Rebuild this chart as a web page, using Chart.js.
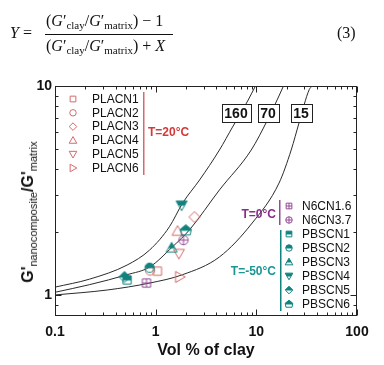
<!DOCTYPE html>
<html>
<head>
<meta charset="utf-8">
<script src="https://cdn.jsdelivr.net/npm/chart.js@4/dist/chart.umd.min.js"></script>
<style>
  html, body { margin:0; padding:0; background:#fff; }
  #wrap { position:relative; width:384px; height:365px; overflow:hidden; }
  #chart { position:absolute; left:0; top:0; }
  .eq { position:absolute; font-family:"Liberation Serif","Times New Roman",serif; font-size:16px; line-height:18px; color:#111; white-space:nowrap; }
  .eq sub { font-size:11px; vertical-align:-3px; line-height:0; }
  #bar { position:absolute; left:45px; top:34px; width:128px; height:1px; background:#111; }
  #ytitle { position:absolute; left:28px; top:212px; transform:translate(-50%,-50%) rotate(-90deg);
    font-family:"Liberation Sans",Arial,sans-serif; font-weight:bold; font-size:16px; line-height:18px; color:#111; white-space:nowrap; }
  #ytitle sub { font-weight:normal; font-size:11px; vertical-align:-4px; line-height:0; }
</style>
</head>
<body>
<div id="wrap">
  <canvas id="chart" width="384" height="365"></canvas>
  <div class="eq" style="left:10px; top:24px;"><i>Y</i> =</div>
  <div class="eq" style="left:46px; top:12px;">(<i>G</i>′<sub>clay</sub>/<i>G</i>′<sub>matrix</sub>) − 1</div>
  <div id="bar"></div>
  <div class="eq" style="left:46px; top:37px;">(<i>G</i>′<sub>clay</sub>/<i>G</i>′<sub>matrix</sub>) + <i>X</i></div>
  <div class="eq" style="left:337px; top:24px;">(3)</div>
  <div id="ytitle">G'<sub>nanocomposite</sub>/G'<sub>matrix</sub></div>
</div>
<script>
// axis ticks
const xTickValues = [0.1, 1, 10, 100];
const xTickLabels = ['0.1', '1', '10', '100'];
const yTickValues = [1, 10];
const yTickLabels = ['1', '10'];

// model curves
const curveNames = ['160', '70', '15'];
const curve160X = [0.1, 0.22, 0.52, 0.87, 1.37, 1.85, 2.73, 4.3, 5.8, 8.3, 9.8];
const curve160Y = [1.09, 1.19, 1.39, 1.64, 2.12, 2.75, 3.55, 4.94, 6.36, 8.57, 10];
const curve70X = [0.1, 0.22, 0.52, 0.87, 1.47, 2.17, 4.3, 8.9, 12.9, 16.1, 18.6];
const curve70Y = [1.03, 1.12, 1.25, 1.36, 1.70, 2.05, 3.18, 4.94, 6.87, 8.58, 10];
const curve15X = [0.1, 0.33, 0.87, 1.85, 4.3, 9.1, 16.8, 22.2, 26.7, 33.5, 35.9];
const curve15Y = [1.0, 1.056, 1.14, 1.25, 1.52, 2.21, 3.43, 4.94, 6.72, 9.6, 10];

// measured samples
const seriesNames = ['PLACN1','PLACN2','PLACN3','PLACN4','PLACN5','PLACN6',
                     'N6CN1.6','N6CN3.7',
                     'PBSCN1','PBSCN2','PBSCN3','PBSCN4','PBSCN5','PBSCN6'];
const seriesX = [1.04, 0.88, 2.43, 1.65, 1.70, 1.73, 0.81, 1.89, 0.52, 0.87, 1.44, 1.81, 0.49, 1.99];
const seriesY = [1.30, 1.31, 2.36, 2.02, 1.58, 1.22, 1.14, 1.83, 1.18, 1.35, 1.68, 2.69, 1.22, 2.04];

const RED = '#d56a6a', PURPLE = '#944a94', TEAL = '#10837f';
const shapes = ['square','circle','diamond','triUp','triDown','triRight',
                'squarePlus','circlePlus',
                'square','circle','triUp','triDown','diamond','house'];

function styleOf(i){
  if(i < 6) return { shape: shapes[i], color: RED, fill: false, order: 3 };
  if(i < 8) return { shape: shapes[i], color: PURPLE, fill: false, order: 2 };
  return { shape: shapes[i], color: TEAL, fill: true, order: 1 };
}

function markerPath(ctx, shape, x, y, r){
  ctx.beginPath();
  if(shape === 'square' || shape === 'squarePlus'){
    const s = r*0.75; ctx.rect(x-s, y-s, 2*s, 2*s);
  } else if(shape === 'circle' || shape === 'circlePlus'){
    ctx.arc(x, y, r*0.85, 0, Math.PI*2);
  } else if(shape === 'diamond'){
    ctx.moveTo(x, y-r); ctx.lineTo(x+r, y); ctx.lineTo(x, y+r); ctx.lineTo(x-r, y);
  } else if(shape === 'triUp'){
    ctx.moveTo(x, y-r); ctx.lineTo(x+r, y+0.75*r); ctx.lineTo(x-r, y+0.75*r);
  } else if(shape === 'triDown'){
    ctx.moveTo(x, y+r); ctx.lineTo(x+r, y-0.75*r); ctx.lineTo(x-r, y-0.75*r);
  } else if(shape === 'triRight'){
    ctx.moveTo(x+r, y); ctx.lineTo(x-0.75*r, y-r); ctx.lineTo(x-0.75*r, y+r);
  } else if(shape === 'house'){
    ctx.moveTo(x, y-r); ctx.lineTo(x+r, y-0.2*r); ctx.lineTo(x+0.8*r, y+0.85*r);
    ctx.lineTo(x-0.8*r, y+0.85*r); ctx.lineTo(x-r, y-0.2*r);
  }
  ctx.closePath();
}

function drawMarker(ctx, st, x, y, r){
  ctx.save();
  ctx.lineWidth = 1;
  ctx.strokeStyle = st.color;
  ctx.fillStyle = st.color;
  markerPath(ctx, st.shape, x, y, r);
  if(st.fill){
    ctx.save(); ctx.clip();
    ctx.fillRect(x-r-1, y-r-1, 2*r+2, r+1.5);
    ctx.restore();
  }
  ctx.stroke();
  if(st.shape === 'squarePlus' || st.shape === 'circlePlus'){
    const s = st.shape === 'squarePlus' ? r*0.75 : r*0.85;
    ctx.beginPath();
    ctx.moveTo(x-s, y); ctx.lineTo(x+s, y);
    ctx.moveTo(x, y-s); ctx.lineTo(x, y+s);
    ctx.stroke();
  }
  ctx.restore();
}

function markerImage(st, r){
  const c = document.createElement('canvas');
  c.width = 16; c.height = 16;
  drawMarker(c.getContext('2d'), st, 8, 8, r);
  return c;
}

function pts(xs, ys){ return xs.map((v,i) => ({x: v, y: ys[i]})); }

const datasets = [];
seriesNames.forEach((name, i) => {
  const st = styleOf(i);
  datasets.push({
    label: name,
    data: [{x: seriesX[i], y: seriesY[i]}],
    pointStyle: markerImage(st, 5.5),
    pointRadius: 5,
    order: st.order
  });
});
[[curve160X, curve160Y], [curve70X, curve70Y], [curve15X, curve15Y]].forEach((c, i) => {
  datasets.push({
    label: curveNames[i],
    data: pts(c[0], c[1]),
    showLine: true,
    pointRadius: 0,
    borderColor: '#2a2a2a',
    borderWidth: 1,
    cubicInterpolationMode: 'monotone',
    order: 10
  });
});

function sameLog(a, b){ return Math.abs(Math.log10(a) - Math.log10(b)) < 1e-6; }

// frame + inward ticks on all four sides
const framePlugin = {
  id: 'frame',
  beforeDatasetsDraw(chart){
    const {ctx, chartArea: a, scales} = chart;
    ctx.save();
    ctx.strokeStyle = '#222';
    ctx.lineWidth = 1;
    const L = Math.round(a.left)+0.5, R = Math.round(a.right)-0.5;
    const T = Math.round(a.top)+0.5, B = Math.round(a.bottom)-0.5;
    ctx.strokeRect(L, T, R-L, B-T);
    ctx.beginPath();
    scales.x.ticks.forEach(t => {
      const v = t.value, e = Math.log10(v), major = Math.abs(e-Math.round(e)) < 1e-6;
      const sig = v / Math.pow(10, Math.floor(e+1e-9));
      if(!major && Math.abs(sig-Math.round(sig)) > 1e-6) return;
      if(v < scales.x.min*0.999 || v > scales.x.max*1.001) return;
      const p = Math.round(scales.x.getPixelForValue(v))+0.5, len = major ? 6 : 3;
      ctx.moveTo(p, B); ctx.lineTo(p, B-len);
      ctx.moveTo(p, T); ctx.lineTo(p, T+len);
    });
    scales.y.ticks.forEach(t => {
      const v = t.value, e = Math.log10(v), major = Math.abs(e-Math.round(e)) < 1e-6;
      const sig = v / Math.pow(10, Math.floor(e+1e-9));
      if(!major && Math.abs(sig-Math.round(sig)) > 1e-6) return;
      if(v < scales.y.min || v > scales.y.max*1.001) return;
      const p = Math.round(scales.y.getPixelForValue(v))+0.5, len = major ? 6 : 3;
      ctx.moveTo(L, p); ctx.lineTo(L+len, p);
      ctx.moveTo(R, p); ctx.lineTo(R-len, p);
    });
    ctx.stroke();
    ctx.restore();
  }
};

// curve labels in boxes + the three legend groups
const labelPlugin = {
  id: 'labels',
  afterDatasetsDraw(chart){
    const {ctx, scales} = chart;
    ctx.save();
    ctx.font = 'bold 14px "Liberation Sans", Arial, sans-serif';
    ctx.textAlign = 'center';
    ctx.textBaseline = 'middle';
    const boxAt = [6.25, 13.2, 27.9];
    curveNames.forEach((txt, i) => {
      const cx = Math.round(scales.x.getPixelForValue(boxAt[i]));
      const cy = Math.round(scales.y.getPixelForValue(7.4));
      const w = Math.ceil(ctx.measureText(txt).width) + 5, h = 18;
      const x0 = Math.round(cx - w/2) + 0.5, y0 = cy - h/2 + 0.5;
      ctx.fillStyle = '#fff';
      ctx.fillRect(x0, y0, w, h);
      ctx.strokeStyle = '#222'; ctx.lineWidth = 1;
      ctx.strokeRect(x0, y0, w, h);
      ctx.fillStyle = '#111';
      ctx.fillText(txt, cx, cy + 1);
    });

    const groups = [
      { from: 0, to: 6, mx: 73, tx: 92, y0: 99, dy: 13.8, color: RED, textColor: '#d43a3a',
        bar: [143, 92, 175], tag: 'T=20°C', tagX: 148, tagY: 133, align: 'left' },
      { from: 6, to: 8, mx: 289, tx: 302, y0: 206, dy: 14, color: PURPLE, textColor: '#8a2c8a',
        bar: [279, 200, 225], tag: 'T=0°C', tagX: 276, tagY: 215, align: 'right' },
      { from: 8, to: 14, mx: 289, tx: 302, y0: 234, dy: 14, color: TEAL, textColor: '#1a9696',
        bar: [280, 230, 311], tag: 'T=-50°C', tagX: 276, tagY: 272, align: 'right' }
    ];
    groups.forEach(g => {
      for(let i = g.from; i < g.to; i++){
        const y = g.y0 + (i - g.from) * g.dy;
        drawMarker(ctx, styleOf(i), g.mx, y, 3.8);
        ctx.font = '12px "Liberation Sans", Arial, sans-serif';
        ctx.textAlign = 'left';
        ctx.fillStyle = '#111';
        ctx.fillText(seriesNames[i], g.tx, y + 0.5);
      }
      ctx.fillStyle = g.color;
      ctx.fillRect(g.bar[0], g.bar[1], 1.5, g.bar[2] - g.bar[1]);
      ctx.font = 'bold 12px "Liberation Sans", Arial, sans-serif';
      ctx.textAlign = g.align;
      ctx.fillStyle = g.textColor;
      ctx.fillText(g.tag, g.tagX, g.tagY);
    });
    ctx.restore();
  }
};

const tickFont = { family: '"Liberation Sans", Arial, sans-serif', size: 14, weight: 'bold' };

new Chart(document.getElementById('chart'), {
  type: 'scatter',
  data: { datasets: datasets },
  options: {
    responsive: false,
    animation: false,
    events: [],
    layout: { padding: { top: 86, right: 27, left: 0, bottom: 0 } },
    plugins: { legend: { display: false }, tooltip: { enabled: false } },
    scales: {
      x: {
        type: 'logarithmic', min: 0.1, max: 100,
        grid: { display: false, drawTicks: false },
        border: { display: false },
        ticks: {
          autoSkip: false, maxRotation: 0, padding: 8, color: '#111', font: tickFont,
          callback: (v) => { const i = xTickValues.findIndex(t => sameLog(t, v)); return i < 0 ? '' : xTickLabels[i]; }
        },
        title: { display: true, text: 'Vol % of clay', color: '#111',
          font: { family: '"Liberation Sans", Arial, sans-serif', size: 16, weight: 'bold' },
          padding: { top: 0, bottom: 5 } },
        afterFit: (s) => { s.height = 49; }
      },
      y: {
        type: 'logarithmic', min: 0.793, max: 10,
        grid: { display: false, drawTicks: false },
        border: { display: false },
        ticks: {
          autoSkip: false, padding: 3, color: '#111', font: tickFont,
          callback: (v) => { const i = yTickValues.findIndex(t => sameLog(t, v)); return i < 0 ? '' : yTickLabels[i]; }
        },
        afterFit: (s) => { s.width = 55; }
      }
    }
  },
  plugins: [framePlugin, labelPlugin]
});
</script>
</body>
</html>
